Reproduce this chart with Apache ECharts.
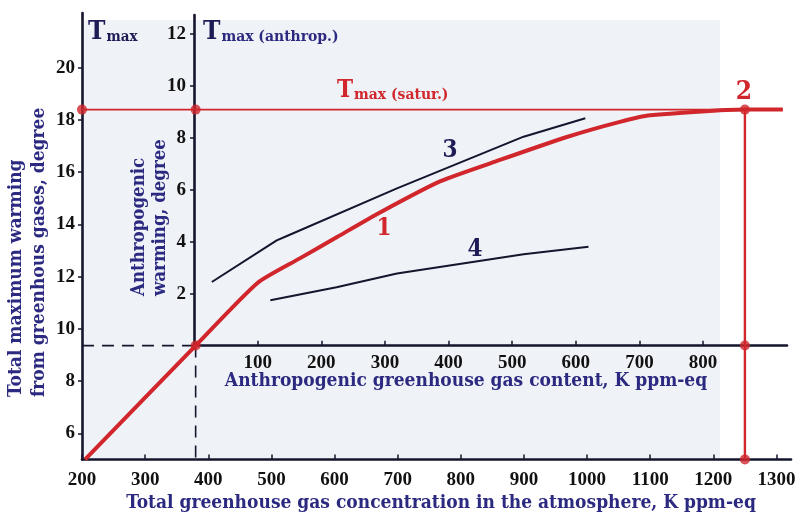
<!DOCTYPE html>
<html>
<head>
<meta charset="utf-8">
<title>Greenhouse warming</title>
<script src="https://cdn.jsdelivr.net/npm/echarts@6/dist/echarts.min.js"></script>
<style>
  html, body { margin: 0; padding: 0; background: #ffffff; }
  #chart { width: 807px; height: 515px; }
</style>
</head>
<body>
<div id="chart"></div>
<script>
// Curve 1: total maximum warming vs total greenhouse gas concentration (K ppm-eq)
const totalConc = [205, 380, 478, 545, 604, 672, 767, 862, 968, 1052, 1100, 1250, 1310];
const totalWarm = [5.0, 9.36, 11.76, 12.7, 13.52, 14.46, 15.65, 16.47, 17.35, 17.93, 18.18, 18.4, 18.4];

// Curve 3 and curve 4: anthropogenic warming vs anthropogenic content
const anthX3 = [28, 130, 146, 319, 518, 615];
const anthY3 = [2.45, 4.05, 4.22, 6.05, 8.04, 8.75];
const anthX4 = [120, 224, 319, 518, 620];
const anthY4 = [1.75, 2.25, 2.78, 3.52, 3.81];

// Reference levels
const originConc = 380;     // present total concentration (start of anthropogenic axes)
const originWarm = 9.36;    // present total warming
const saturWarm = 18.4;     // saturation maximum warming
const saturConc = 1250;     // concentration at saturation (point 2)

// Tick labels
const outerXTicks = [200, 300, 400, 500, 600, 700, 800, 900, 1000, 1100, 1200, 1300];
const outerYTicks = [6, 8, 10, 12, 14, 16, 18, 20];
const innerXTicks = [100, 200, 300, 400, 500, 600, 700, 800];
const innerYTicks = [2, 4, 6, 8, 10, 12];

const zip = (xs, ys) => xs.map((x, i) => [x, ys[i]]);

const NAVY = '#2c2a80';
const INK = '#15152e';
const DARK = '#1e1c56';
const RED = '#d0262c';
const SERIF = "'DejaVu Serif Condensed', 'DejaVu Serif', serif";
const TICKFONT = "'Liberation Serif', serif";

const chart = echarts.init(document.getElementById('chart'), null, { renderer: 'canvas' });

const tickLabel = { fontFamily: TICKFONT, fontSize: 19, color: '#111', fontWeight: 'bold', formatter: v => String(v) };

chart.setOption({
  animation: false,
  backgroundColor: '#ffffff',
  grid: [
    { left: 82, top: 13, width: 709, height: 446.4, containLabel: false },
    { left: 194, top: 15, width: 593, height: 330.7, containLabel: false }
  ],
  xAxis: [
    {
      gridIndex: 0, type: 'value', min: 200, max: 1323,
      axisLine: { show: true, onZero: false, lineStyle: { color: INK, width: 2.6 } },
      axisTick: { show: true, inside: true, length: 5, customValues: outerXTicks, lineStyle: { color: INK, width: 1.5 } },
      axisLabel: Object.assign({ margin: 11, customValues: outerXTicks }, tickLabel),
      splitLine: { show: false }
    },
    {
      gridIndex: 1, type: 'value', min: 0, max: 932,
      axisLine: { show: true, onZero: false, lineStyle: { color: INK, width: 2.6 } },
      axisTick: { show: true, inside: true, length: 5, customValues: innerXTicks, lineStyle: { color: INK, width: 1.5 } },
      axisLabel: Object.assign({ margin: 8, customValues: innerXTicks }, tickLabel),
      splitLine: { show: false }
    }
  ],
  yAxis: [
    {
      gridIndex: 0, type: 'value', min: 5, max: 22.1,
      axisLine: { show: true, onZero: false, lineStyle: { color: INK, width: 2.6 } },
      axisTick: { show: true, length: 4, customValues: outerYTicks, lineStyle: { color: INK, width: 1.5 } },
      axisLabel: Object.assign({ margin: 7, customValues: outerYTicks }, tickLabel),
      splitLine: { show: false }
    },
    {
      gridIndex: 1, type: 'value', min: 0, max: 12.72,
      axisLine: { show: true, onZero: false, lineStyle: { color: INK, width: 2.6 } },
      axisTick: { show: true, length: 4, customValues: innerYTicks, lineStyle: { color: INK, width: 1.5 } },
      axisLabel: Object.assign({ margin: 8, customValues: innerYTicks }, tickLabel),
      splitLine: { show: false }
    }
  ],
  graphic: [
    // light paper tint behind the plot
    { type: 'rect', z: -10, silent: true, shape: { x: 84, y: 20, width: 636, height: 438 }, style: { fill: '#eff2f7' } },
    // axis titles
    { type: 'text', x: 441, y: 503, style: { text: 'Total greenhouse gas concentration in the atmosphere, K ppm-eq', fill: NAVY, font: "bold 19px " + SERIF, align: 'center', verticalAlign: 'middle' } },
    { type: 'text', x: 466, y: 381, style: { text: 'Anthropogenic greenhouse gas content, K ppm-eq', fill: NAVY, font: "bold 19px " + SERIF, align: 'center', verticalAlign: 'middle' } },
    { type: 'text', x: 28, y: 397, rotation: Math.PI / 2, style: { text: 'Total maximum warming\nfrom greenhous gases, degree', fill: NAVY, font: "bold 19px " + SERIF, align: 'left', verticalAlign: 'middle', lineHeight: 23 } },
    { type: 'text', x: 150, y: 296, rotation: Math.PI / 2, style: { text: 'Anthropogenic\nwarming, degree', fill: NAVY, font: "bold 18.5px " + SERIF, align: 'left', verticalAlign: 'middle', lineHeight: 21 } },
    // T max headings
    { type: 'text', x: 88, y: 45, style: { text: '{t|T}{s|max}', verticalAlign: 'bottom', rich: { t: { font: "bold 26px " + SERIF, fill: DARK, verticalAlign: 'bottom' }, s: { font: "bold 15px " + SERIF, fill: DARK, verticalAlign: 'bottom', padding: [0, 0, 0, 1] } } } },
    { type: 'text', x: 203, y: 45, style: { text: '{t|T}{s|max (anthrop.)}', verticalAlign: 'bottom', rich: { t: { font: "bold 26px " + SERIF, fill: DARK, verticalAlign: 'bottom' }, s: { font: "bold 15.5px " + SERIF, fill: NAVY, verticalAlign: 'bottom', padding: [0, 0, 0, 1] } } } },
    { type: 'text', x: 337, y: 103, style: { text: '{t|T}{s|max (satur.)}', verticalAlign: 'bottom', rich: { t: { font: "bold 24px " + SERIF, fill: RED, verticalAlign: 'bottom' }, s: { font: "bold 15.5px " + SERIF, fill: RED, verticalAlign: 'bottom', padding: [0, 0, 0, 1] } } } },
    // curve numbers
    { type: 'text', x: 384, y: 229, style: { text: '1', fill: RED, font: "bold 24px " + SERIF, align: 'center', verticalAlign: 'middle' } },
    { type: 'text', x: 744, y: 92, style: { text: '2', fill: RED, font: "bold 26px " + SERIF, align: 'center', verticalAlign: 'middle' } },
    { type: 'text', x: 450, y: 151, style: { text: '3', fill: DARK, font: "bold 24px " + SERIF, align: 'center', verticalAlign: 'middle' } },
    { type: 'text', x: 475, y: 250, style: { text: '4', fill: DARK, font: "bold 24px " + SERIF, align: 'center', verticalAlign: 'middle' } }
  ],
  series: [
    // dashed guides to the present-day point
    { type: 'line', xAxisIndex: 0, yAxisIndex: 0, data: [[200, originWarm], [originConc, originWarm]], symbol: 'none', lineStyle: { color: INK, width: 1.6, type: [12, 8] }, z: 1 },
    { type: 'line', xAxisIndex: 0, yAxisIndex: 0, data: [[originConc, originWarm], [originConc, 5]], symbol: 'none', lineStyle: { color: INK, width: 1.6, type: [12, 8] }, z: 1 },
    // saturation level and its projection
    { type: 'line', xAxisIndex: 0, yAxisIndex: 0, data: [[200, saturWarm], [1310, saturWarm]], symbol: 'none', lineStyle: { color: RED, width: 1.8 }, z: 2 },
    { type: 'line', xAxisIndex: 0, yAxisIndex: 0, data: [[saturConc, saturWarm], [saturConc, 5]], symbol: 'none', lineStyle: { color: RED, width: 2.4 }, z: 2 },
    // curve 1
    { type: 'line', xAxisIndex: 0, yAxisIndex: 0, data: zip(totalConc, totalWarm), symbol: 'none', smooth: 0.2, lineStyle: { color: RED, width: 4 }, z: 3 },
    // curves 3 and 4
    { type: 'line', xAxisIndex: 1, yAxisIndex: 1, data: zip(anthX3, anthY3), symbol: 'none', lineStyle: { color: INK, width: 2 }, z: 3 },
    { type: 'line', xAxisIndex: 1, yAxisIndex: 1, data: zip(anthX4, anthY4), symbol: 'none', lineStyle: { color: INK, width: 2 }, z: 3 },
    // key points
    { type: 'scatter', xAxisIndex: 0, yAxisIndex: 0, symbolSize: 10, itemStyle: { color: RED }, z: 5,
      data: [[200, saturWarm], [originConc, saturWarm], [originConc, originWarm], [saturConc, saturWarm], [saturConc, originWarm], [saturConc, 5]] }
  ]
});
</script>
</body>
</html>
